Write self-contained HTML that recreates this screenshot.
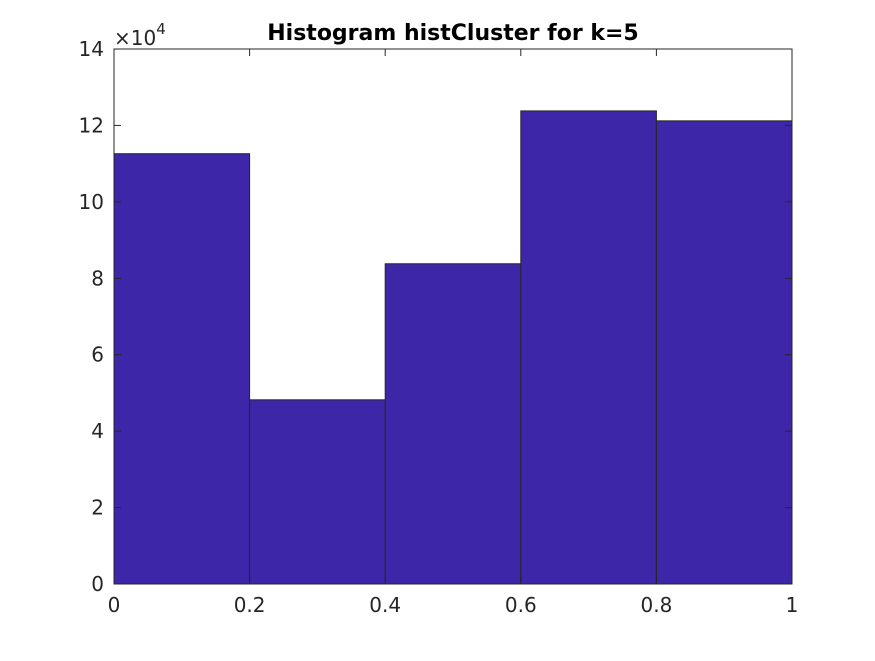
<!DOCTYPE html>
<html><head><meta charset="utf-8"><style>
body{margin:0;background:#fff;}
svg text{font-family:"DejaVu Sans","Liberation Sans",sans-serif;}
</style></head><body>
<svg id="chart" width="875" height="656" xmlns="http://www.w3.org/2000/svg">
<rect width="875" height="656" fill="#fff"/>
<g id="bars"></g>
<g id="axes"></g>
<text x="453" y="40" text-anchor="middle" font-size="22" font-weight="bold" fill="#000">Histogram histCluster for k=5</text>
<text x="114" y="45" font-size="20" fill="#262626">×10<tspan dy="-11" font-size="15">4</tspan></text>
</svg>
<script>
const binEdges=[0,0.2,0.4,0.6,0.8,1];
const counts=[112600,48200,83800,123800,121200];
const xTicks=[0,0.2,0.4,0.6,0.8,1];
const xTickLabels=["0","0.2","0.4","0.6","0.8","1"];
const yTicks=[0,20000,40000,60000,80000,100000,120000,140000];
const yTickLabels=["0","2","4","6","8","10","12","14"];
const L=114,R=792,T=49,B=584;
const xs=v=>L+(v-0)/(1-0)*(R-L);
const ys=v=>B-v/140000*(B-T);
const NS="http://www.w3.org/2000/svg";
const bars=document.getElementById('bars');
counts.forEach((c,i)=>{
  const r=document.createElementNS(NS,'rect');
  r.setAttribute('x',xs(binEdges[i]));
  r.setAttribute('y',ys(c));
  r.setAttribute('width',xs(binEdges[i+1])-xs(binEdges[i]));
  r.setAttribute('height',ys(0)-ys(c));
  r.setAttribute('fill','#3e26a8');
  r.setAttribute('stroke','#262626');
  r.setAttribute('stroke-width','1');
  
  
  bars.appendChild(r);
});
const ax=document.getElementById('axes');
const box=document.createElementNS(NS,'rect');
box.setAttribute('x',L);box.setAttribute('y',T);box.setAttribute('width',R-L);box.setAttribute('height',B-T);
box.setAttribute('fill','none');box.setAttribute('stroke','#262626');


ax.appendChild(box);
xTicks.forEach((v,i)=>{
  const x=xs(v);
  ['B','T'].forEach(s=>{
    const l=document.createElementNS(NS,'line');
    const y0=s==='B'?B:T, y1=s==='B'?B-7:T+7;
    l.setAttribute('x1',x);l.setAttribute('x2',x);l.setAttribute('y1',y0);l.setAttribute('y2',y1);
    l.setAttribute('stroke','#262626');
    
    
    ax.appendChild(l);
  });
  const t=document.createElementNS(NS,'text');
  t.setAttribute('x',x);t.setAttribute('y',B+28);t.setAttribute('text-anchor','middle');
  t.setAttribute('font-size','20');t.setAttribute('fill','#262626');
  t.textContent=xTickLabels[i];
  
  
  ax.appendChild(t);
});
yTicks.forEach((v,i)=>{
  const y=ys(v);
  ['L','R'].forEach(s=>{
    const l=document.createElementNS(NS,'line');
    const x0=s==='L'?L:R, x1=s==='L'?L+7:R-7;
    l.setAttribute('x1',x0);l.setAttribute('x2',x1);l.setAttribute('y1',y);l.setAttribute('y2',y);
    l.setAttribute('stroke','#262626');
    
    
    ax.appendChild(l);
  });
  const t=document.createElementNS(NS,'text');
  t.setAttribute('x',L-10);t.setAttribute('y',y+7);t.setAttribute('text-anchor','end');
  t.setAttribute('font-size','20');t.setAttribute('fill','#262626');
  t.textContent=yTickLabels[i];
  
  
  ax.appendChild(t);
});
</script>
</body></html>
